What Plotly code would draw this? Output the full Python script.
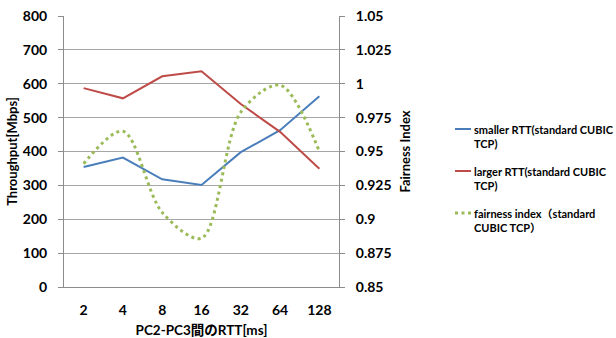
import plotly.graph_objects as go

# RTT between PC2 and PC3 [ms]
rtt_labels = ["2", "4", "8", "16", "32", "64", "128"]

# Throughput [Mbps]
smaller_rtt = [354, 382, 318, 301, 398, 463, 563]
larger_rtt = [587, 557, 622, 637, 540, 458, 349]

# Jain's fairness index
fairness = [0.941, 0.965, 0.905, 0.886, 0.979, 0.999, 0.950]

series_names = [
    "smaller RTT(standard CUBIC<br>TCP)",
    "larger RTT(standard CUBIC<br>TCP)",
    "fairness index（standard<br>CUBIC TCP）",
]
blue, red, green = "#4a7ebb", "#be4b48", "#9bbb59"

FONT = "Lato, 'Noto Sans CJK JP', sans-serif"

fig = go.Figure()
fig.add_trace(go.Scatter(x=rtt_labels, y=smaller_rtt, mode="lines",
                         line=dict(color=blue, width=2), yaxis="y"))
fig.add_trace(go.Scatter(x=rtt_labels, y=larger_rtt, mode="lines",
                         line=dict(color=red, width=2), yaxis="y"))
fig.add_trace(go.Scatter(x=rtt_labels, y=fairness, mode="lines",
                         line=dict(color=green, width=3, dash="3px,3.5px",
                                   shape="spline", smoothing=0.9),
                         yaxis="y2"))

grid = "#a6a6a6"
axis_line = "#8c8c8c"
fig.update_layout(
    width=616, height=338,
    margin=dict(l=64, r=277, t=16, b=51),
    paper_bgcolor="white", plot_bgcolor="white",
    showlegend=False,
    font=dict(family=FONT, color="#000000", size=13),
    xaxis=dict(type="category", range=[-0.5, 6.5], automargin=False,
               showgrid=False, showline=True,
               linecolor=axis_line, linewidth=1, ticks="",
               tickfont=dict(size=14, family=FONT, weight="bold"),
               ticklabelstandoff=10,
               title=dict(text="<b>PC2-PC3間のRTT[ms]</b>",
                          font=dict(size=13.5), standoff=8)),
    yaxis=dict(range=[0, 800], dtick=100, automargin=False,
               showgrid=True, gridcolor=grid,
               gridwidth=1, zeroline=False, showline=True,
               linecolor=axis_line, ticks="outside", ticklen=5,
               tickcolor=axis_line,
               tickfont=dict(size=14, family=FONT, weight="bold"),
               ticklabelstandoff=8,
               title=dict(text="<b>Throughput[Mbps]</b>",
                          font=dict(size=13), standoff=2)),
    yaxis2=dict(range=[0.85, 1.05], dtick=0.025, overlaying="y",
                automargin=False,
                side="right", showgrid=False, zeroline=False,
                showline=True, linecolor=axis_line, ticks="outside",
                ticklen=5, tickcolor=axis_line,
                tickfont=dict(size=14, family=FONT, weight="bold"),
                ticklabelstandoff=8,
                title=dict(text="<b>Fairness Index</b>",
                           font=dict(size=13), standoff=10)),
)

# Legend drawn beside the plot area
legend_y = [129, 171, 213]
legend_style = [dict(color=blue, width=2), dict(color=red, width=2),
                dict(color=green, width=3, dash="3px,3.5px")]
for name, yy, st in zip(series_names, legend_y, legend_style):
    fig.add_shape(type="line", xref="paper", yref="paper",
                  x0=(455 - 64) / 275, x1=(471 - 64) / 275,
                  y0=(287 - yy) / 271, y1=(287 - yy) / 271,
                  line=st)
    fig.add_annotation(text="<b>" + name + "</b>", xref="paper", yref="paper",
                       x=(472 - 64) / 275, y=(287 - yy + 8) / 271,
                       xanchor="left", yanchor="top", align="left",
                       showarrow=False,
                       font=dict(size=11, family=FONT))

fig.write_html("out.html")
